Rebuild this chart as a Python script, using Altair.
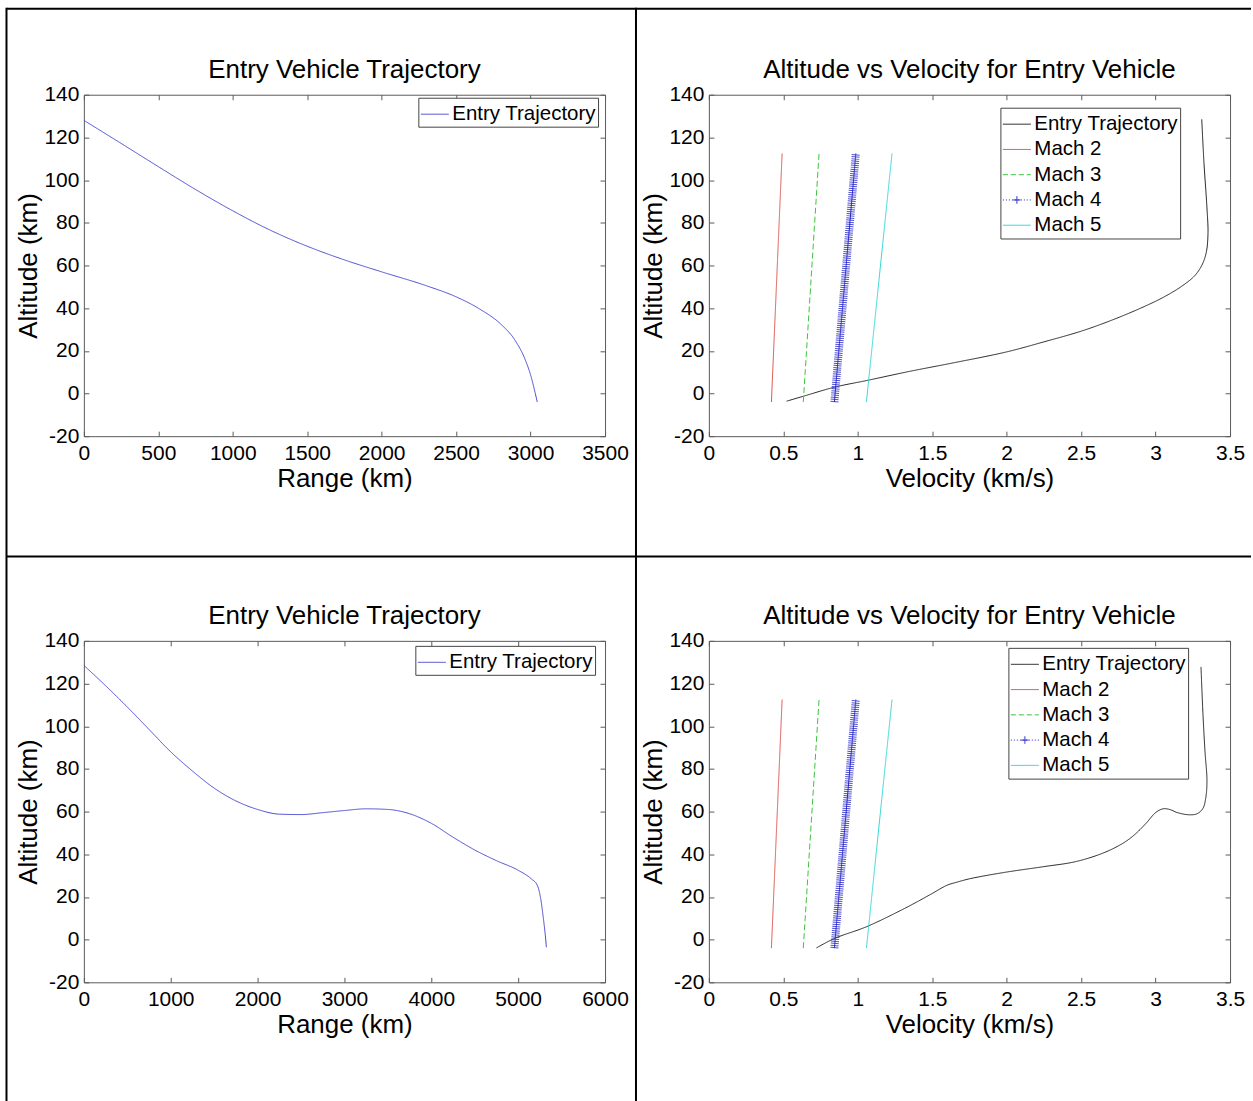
import altair as alt
import pandas as pd

FONT = "Liberation Sans"
BOX = "#5a5a5a"

# Run 1: ground range (km) vs altitude (km)
run1_range_km = [0, 250, 500, 750, 1000, 1250, 1500, 1750, 2000, 2300, 2500,
                 2660, 2800, 2895, 2960, 3003, 3030, 3045]
run1_alt_km = [128, 117.2, 106.3, 95.6, 85.6, 76.6, 69, 62.6, 57, 50.5, 45.3,
               39.5, 32.5, 25, 16.5, 8, 0.5, -4]

# Run 2: ground range (km) vs altitude (km)
run2_range_km = [0, 250, 500, 750, 1000, 1250, 1500, 1750, 2000, 2250, 2500,
                 2750, 3000, 3250, 3500, 3750, 4000, 4250, 4500, 4750, 5000,
                 5150, 5220, 5260, 5290, 5310, 5325]
run2_alt_km = [128.5, 119, 109, 98.5, 88, 79, 71, 65, 61, 58.8, 58.6,
               59.5, 60.5, 61.3, 61, 59, 54.5, 48, 42, 37, 32.5,
               28.5, 25.5, 19, 10, 3, -3.6]

# Run 1: velocity (km/s) vs altitude (km), in flight order
run1_vel_kms = [3.31, 3.325, 3.345, 3.352, 3.34, 3.31, 3.26, 3.17, 3.05, 2.9,
                2.7, 2.5, 2.25, 2.0, 1.63, 1.35, 1.068, 0.846, 0.634, 0.522]
run1_valt_km = [128.5, 108, 87, 75, 66, 60, 55, 50, 45, 40,
                34.2, 29.2, 24.2, 19.5, 14.2, 10.4, 6.2, 3.0, -1.3, -3.6]

# Run 2: velocity (km/s) vs altitude (km), in flight order
run2_vel_kms = [3.305, 3.318, 3.332, 3.345, 3.337, 3.318, 3.279, 3.226, 3.147,
                3.094, 3.05, 3.0, 2.936, 2.856, 2.777, 2.645, 2.46, 2.249,
                1.985, 1.75, 1.66, 1.6, 1.484, 1.314, 1.057, 0.845, 0.722]
run2_valt_km = [127.8, 106, 88, 74.7, 66.4, 61.5, 59, 58.5, 59.5,
                61, 61.3, 59.5, 54.5, 49, 45, 40.5, 36.5, 34.2,
                31.5, 28.5, 26.8, 25.5, 21, 14.6, 6.0, 0.6, -3.9]

# Constant-Mach reference lines (end points)
mach_alt_km = [-4, 112.5]
mach_names = ["Mach 2", "Mach 3", "Mach 4", "Mach 5"]
mach_vel_kms = [[0.42, 0.492], [0.634, 0.74], [0.843, 0.987], [1.058, 1.23]]

# Tick values
range1_ticks = [0, 500, 1000, 1500, 2000, 2500, 3000, 3500]
range2_ticks = [0, 1000, 2000, 3000, 4000, 5000, 6000]
vel_ticks = [0, 0.5, 1, 1.5, 2, 2.5, 3, 3.5]
alt_ticks = [-20, 0, 20, 40, 60, 80, 100, 120, 140]

PW, PH = 522, 342
LABEL_EXPR = "'' + datum.value"

series_all = ["Entry Trajectory"] + mach_names
vel_colors = ["#262626", "#d9534f", "#3cc43c", "#2424c8", "#33d6d6"]
vel_dashes = [[1, 0], [1, 0], [6, 3], [1, 0], [1, 0]]
M4_COLOR = "#2424c8"

# Legend symbol paths (unit square, scaled by the symbol size)
dash_path = "M-1,0H-0.64M-0.43,0H-0.07M0.14,0H0.5M0.71,0H1"
dot_path = "".join(f"M{-1 + k * 0.214:.3f},0H{-1 + k * 0.214 + 0.07:.3f}" for k in range(10))
dot_path += "M0,-0.27V0.27M-0.27,0H0.27"
shape_expr = (f"datum.value === 'Mach 3' ? '{dash_path}' : "
              f"datum.value === 'Mach 4' ? '{dot_path}' : 'stroke'")

blank = pd.DataFrame({"k": [0]})


def range_frame(xs, ys):
    return pd.DataFrame({"x": xs, "alt": ys, "series": "Entry Trajectory",
                         "idx": list(range(len(xs)))})


def velocity_frame(vel, alt_):
    parts = [pd.DataFrame({"x": vel, "alt": alt_, "series": "Entry Trajectory",
                           "idx": list(range(len(vel)))})]
    for name, v in zip(mach_names, mach_vel_kms):
        parts.append(pd.DataFrame({"x": v, "alt": mach_alt_km, "series": name,
                                   "idx": list(range(len(v)))}))
    return pd.concat(parts, ignore_index=True)


def make_legend(lx, ly, custom_shapes):
    shape = alt.ExprRef(expr=shape_expr) if custom_shapes else "stroke"
    return alt.Legend(
        title=None, orient="none", legendX=lx, legendY=ly, direction="vertical",
        symbolType=shape, symbolSize=784, symbolStrokeWidth=1,
        symbolFillColor="transparent",
        labelFont=FONT, labelFontSize=20.5, labelColor="black", labelLimit=400,
        labelOffset=3, padding=2, rowPadding=0.3,
        strokeColor="#444444", fillColor="white",
    )


def panel(df, xdom, xticks, xtitle, title, cdom, crange, drange, legend,
          interp, extras):
    sx = alt.Scale(domain=xdom, nice=False, zero=False)
    sy = alt.Scale(domain=[-20, 140], nice=False, zero=False)

    lines = alt.Chart(df).mark_line(strokeWidth=1, interpolate=interp).encode(
        x=alt.X("x:Q", scale=sx, axis=alt.Axis(
            orient="bottom", values=xticks, title=xtitle, labelExpr=LABEL_EXPR,
            offset=-5, tickSize=5, labelPadding=6, titlePadding=2,
            domain=False, grid=False, labelFlush=False, labelOverlap=False)),
        y=alt.Y("alt:Q", scale=sy, axis=alt.Axis(
            orient="left", values=alt_ticks, title="Altitude (km)", labelExpr=LABEL_EXPR,
            offset=-5, tickSize=5, labelPadding=5, titlePadding=2,
            domain=False, grid=False, labelFlush=False, labelOverlap=False)),
        color=alt.Color("series:N", scale=alt.Scale(domain=cdom, range=crange), legend=legend),
        strokeDash=alt.StrokeDash("series:N", scale=alt.Scale(domain=cdom, range=drange),
                                  legend=None),
        order=alt.Order("idx:Q"),
    )

    # ticks on the top and right edges of the box
    frame = alt.Chart(df).mark_point(opacity=0).encode(
        x=alt.X("x:Q", scale=sx, axis=alt.Axis(
            orient="top", values=xticks, labels=False, title=None,
            offset=-5, tickSize=5, domain=False, grid=False)),
        y=alt.Y("alt:Q", scale=sy, axis=alt.Axis(
            orient="right", values=alt_ticks, labels=False, title=None,
            offset=-5, tickSize=5, domain=False, grid=False)),
    )

    heading = alt.Chart(blank).mark_text(
        text=title, font=FONT, fontSize=26, color="black",
        align="center", baseline="alphabetic",
    ).encode(x=alt.value(PW / 2), y=alt.value(-17))

    layers = [frame, lines] + [e(sx, sy) for e in extras] + [heading]
    return alt.layer(*layers).resolve_axis(x="independent", y="independent").properties(
        width=PW, height=PH,
    )


def mach4_markers(df):
    m4 = df[df["series"] == "Mach 4"]

    def build(sx, sy):
        return alt.Chart(m4).mark_line(
            color=M4_COLOR, strokeWidth=8, strokeDash=[1, 1.12], opacity=0.8
        ).encode(
            x=alt.X("x:Q", scale=sx, axis=None),
            y=alt.Y("alt:Q", scale=sy, axis=None),
            order=alt.Order("idx:Q"),
        )
    return build


# table grid lines, placed relative to the first panel's plot origin
def v_line(x):
    return lambda sx, sy: alt.Chart(blank).mark_rule(color="black", strokeWidth=2).encode(
        x=alt.value(x), y=alt.value(-87), y2=alt.value(1008))


def h_line(y):
    return lambda sx, sy: alt.Chart(blank).mark_rule(color="black", strokeWidth=2).encode(
        y=alt.value(y), x=alt.value(-77.5), x2=alt.value(1169))


df1 = range_frame(run1_range_km, run1_alt_km)
df2 = range_frame(run2_range_km, run2_alt_km)
dv1 = velocity_frame(run1_vel_kms, run1_valt_km)
dv2 = velocity_frame(run2_vel_kms, run2_valt_km)

traj_dom = ["Entry Trajectory"]
traj_col = ["#4a4ad0"]

p1 = panel(df1, [0, 3500], range1_ticks, "Range (km)", "Entry Vehicle Trajectory",
           traj_dom, traj_col, [[1, 0]], make_legend(335, 3, False), "monotone",
           [v_line(-77.5), v_line(553), h_line(-86), h_line(462.5)])
p2 = panel(dv1, [0, 3.5], vel_ticks, "Velocity (km/s)", "Altitude vs Velocity for Entry Vehicle",
           series_all, vel_colors, vel_dashes, make_legend(292, 13, True), "catmull-rom",
           [mach4_markers(dv1)])
p3 = panel(df2, [0, 6000], range2_ticks, "Range (km)", "Entry Vehicle Trajectory",
           traj_dom, traj_col, [[1, 0]], make_legend(332, 5, False), "monotone", [])
p4 = panel(dv2, [0, 3.5], vel_ticks, "Velocity (km/s)", "Altitude vs Velocity for Entry Vehicle",
           series_all, vel_colors, vel_dashes, make_legend(300, 7, True), "catmull-rom",
           [mach4_markers(dv2)])

chart = alt.concat(p1, p2, p3, p4, columns=2).properties(
    spacing={"row": 205, "column": 104},
    bounds="flush",
    padding={"left": 5, "top": 5, "right": 0, "bottom": 0},
    background="white",
).resolve_scale(
    color="independent", strokeDash="independent"
).configure_view(
    stroke=BOX, strokeWidth=1
).configure_axis(
    labelFont=FONT, titleFont=FONT, labelFontSize=21, titleFontSize=26,
    labelColor="black", titleColor="black", titleFontWeight="normal",
    tickColor=BOX, tickWidth=1,
)

chart.save("out.html", embed_options={"renderer": "svg", "actions": False})
